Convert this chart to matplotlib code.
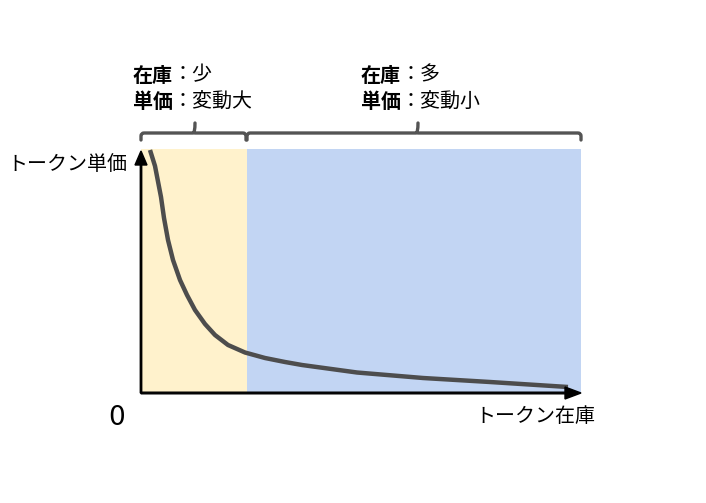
import matplotlib
matplotlib.use("Agg")
import matplotlib.pyplot as plt
from matplotlib.path import Path
from matplotlib.patches import PathPatch, FancyArrow

plt.rcParams['font.family'] = ['Noto Sans CJK JP', 'DejaVu Sans']

# token stock (x) vs unit price (y)
stock = [9, 14, 20, 23, 27, 32, 39, 46, 54, 64, 74, 87, 104, 124, 144, 161,
         216, 282, 349, 427]
price = [243, 227, 196, 175, 153, 133, 113, 98, 83, 69, 58, 48, 40.5, 35, 31,
         28, 20.5, 15, 11, 6]

x_max, y_max = 440, 244
split = 106  # border between low stock and high stock

regions = [(0, split, "#fff2cc"), (split, x_max, "#c2d5f3")]
labels_top = [("在庫", "：少"), ("在庫", "：多")]
labels_bot = [("単価", "：変動大"), ("単価", "：変動小")]

fig = plt.figure(figsize=(7.06, 5.03), dpi=100)
ax = fig.add_axes([141 / 706, 110 / 503, 440 / 706, 244 / 503])
ax.set_xlim(0, x_max)
ax.set_ylim(0, y_max)
ax.axis("off")

for x0, x1, c in regions:
    ax.axvspan(x0, x1, 0, 1, color=c, lw=0, zorder=0)

ax.plot(stock, price, color="#4d4d4d", lw=3.2, solid_capstyle="butt",
        solid_joinstyle="round", zorder=3)

# axes with arrow heads
ax.add_patch(FancyArrow(0, 0, 0, y_max - 2, width=1.4, head_width=12,
                        head_length=14, length_includes_head=True,
                        color="black", clip_on=False, zorder=4))
ax.add_patch(FancyArrow(0, 0, x_max, 0, width=1.6, head_width=12,
                        head_length=16, length_includes_head=True,
                        color="black", clip_on=False, zorder=4))


def brace(x0, x1, xm):
    yb, yh, yt, r = y_max + 9, y_max + 16, y_max + 26, 3
    verts = [(x0, yb), (x0, yh - r), (x0, yh), (x0 + r, yh),
             (xm - 2, yh), (xm, yh), (xm, yt),
             (xm, yh), (xm + 2, yh),
             (x1 - r, yh), (x1, yh), (x1, yh - r), (x1, yb)]
    codes = [Path.MOVETO, Path.LINETO, Path.CURVE3, Path.CURVE3,
             Path.LINETO, Path.CURVE3, Path.CURVE3,
             Path.MOVETO, Path.LINETO,
             Path.LINETO, Path.CURVE3, Path.CURVE3, Path.LINETO]
    ax.add_patch(PathPatch(Path(verts, codes), fill=False, ec="#545454",
                           lw=2.4, clip_on=False, capstyle="round",
                           joinstyle="round"))


brace(0, 105, 54)
brace(106, 440, 277)

fs = 14.4
for i, (x0, x1, c) in enumerate(regions):
    tx = -8 if i == 0 else 220
    for (b, n), ty in ((labels_top[i], y_max + 74), (labels_bot[i], y_max + 48)):
        t = ax.text(tx, ty, b, fontsize=fs, fontweight="bold", va="center",
                    ha="left", clip_on=False)
        ax.annotate(n, xy=(1, 0.5), xycoords=t, va="center", ha="left",
                    fontsize=fs, annotation_clip=False)

ax.text(-14, y_max - 16, "トークン単価", fontsize=fs, ha="right", va="center")
ax.text(x_max + 14, -24, "トークン在庫", fontsize=fs, ha="right", va="center")
ax.text(-24, -25, "0", fontsize=19, ha="center", va="center",
        family="DejaVu Sans")

fig.savefig("out.png", dpi=100)
